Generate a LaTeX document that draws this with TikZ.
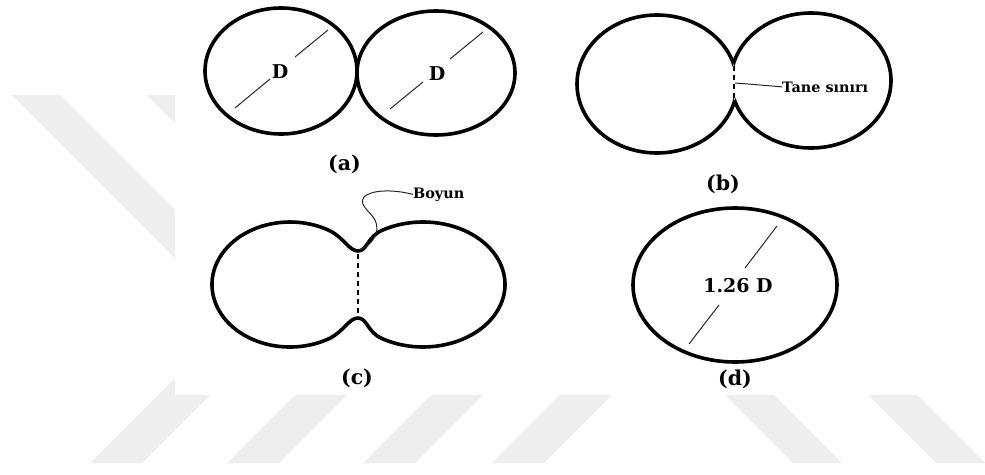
\documentclass[tikz,border=0pt]{standalone}
\usepackage{fontspec}
\setmainfont{DejaVu Serif}
\definecolor{wm}{RGB}{238,238,238}
\definecolor{thin}{RGB}{40,40,40}
\begin{document}
\begin{tikzpicture}[x=1pt,y=-1pt,
  outline/.style={draw=black,line width=3.6pt},
  diam/.style={draw=thin,line width=1pt},
  bnd/.style={draw=black,line width=1.5pt,dash pattern=on 5pt off 4pt},
  leader/.style={draw=thin,line width=1pt},
  lbl/.style={font=\bfseries\fontsize{20.5}{22}\selectfont,inner sep=0pt,anchor=base},
  dlbl/.style={font=\bfseries\fontsize{19}{21}\selectfont,inner sep=0pt,anchor=base},
  note/.style={font=\bfseries\fontsize{14.4}{16}\selectfont,inner sep=0pt,anchor=base west},
  stripe/.style={fill=wm,draw=none}]
\useasboundingbox (0,0) rectangle (985,474);
\fill[white] (0,0) rectangle (985,474);
% watermark stripes
\fill[stripe] (12,95) -- (60,95) -- (260,295) -- (212,295) -- cycle;
\fill[stripe] (147,95) -- (195,95) -- (395,295) -- (347,295) -- cycle;
\foreach \a in {90,227,363,492}{
  \fill[stripe] (\a,463) -- (\a+52,463) -- (\a+215,300) -- (\a+163,300) -- cycle;}
\foreach \a in {793,936}{
  \fill[stripe] (\a,463) -- (\a+49,463) -- (\a-114,300) -- (\a-163,300) -- cycle;}
\fill[white] (175,0) rectangle (985,395);

% (a)
\draw[outline] (281,71) ellipse (76pt and 63pt);
\draw[outline] (436,73) ellipse (79pt and 62pt);
\node[dlbl] (Da) at (280,78) {D};
\node[dlbl] (Db) at (437,80) {D};
\draw[diam] (235,108) -- (270,79);
\draw[diam] (295,57) -- (328,30);
\draw[diam] (390,109) -- (423,82);
\draw[diam] (450,59) -- (483,32);
\node[lbl] (la) at (344.5,170.5) {(a)};

% (b)
\begin{scope}[even odd rule]
  \clip (560,0) rectangle (920,175) (811,80.5) ellipse (80pt and 67.5pt);
  \draw[outline] (657,84) ellipse (80pt and 69pt);
\end{scope}
\begin{scope}[even odd rule]
  \clip (560,0) rectangle (920,175) (657,84) ellipse (80pt and 69pt);
  \draw[outline] (811,80.5) ellipse (80pt and 67.5pt);
\end{scope}
\draw[bnd] (734,66) -- (734,99);
\node[note] (tane) at (782,92) {Tane sınırı};
\coordinate (gb) at (735,83);
\draw[leader] (gb) -- (748,84) -- (tane.west);
\node[lbl] (lb) at (723,190) {(b)};

% (c)
\draw[outline] (329,230.4)
  arc[start angle=60,end angle=300,x radius=78pt,y radius=62.5pt]
  .. controls (343.5,331.9) and (349,318) .. (358,318)
  .. controls (367,318) and (367.4,332.2) .. (382,338.6)
  arc[start angle=240,end angle=480,x radius=82pt,y radius=62.5pt]
  .. controls (367.4,236.8) and (367,251) .. (358,251)
  .. controls (349,251) and (343.5,237.1) .. cycle;
\draw[bnd] (358,254) -- (358,316);
\node[note] (boyun) at (413,198) {Boyun};
\coordinate (neck) at (361,249);
\draw[leader] (neck) .. controls (372,245) and (381,232) .. (375,220)
  .. controls (370,211) and (358,205) .. (364,197)
  .. controls (371,190) and (392,189) .. (boyun.west);
\node[lbl] (lc) at (357,384) {(c)};

% (d)
\draw[outline] (735,285) ellipse (102pt and 77pt);
\node[dlbl] (Dd) at (738,292) {1.26 D};
\draw[diam] (745,268) -- (777,226);
\draw[diam] (689,344) -- (719,305);
\node[lbl] (ld) at (735,385) {(d)};
\end{tikzpicture}
\end{document}
